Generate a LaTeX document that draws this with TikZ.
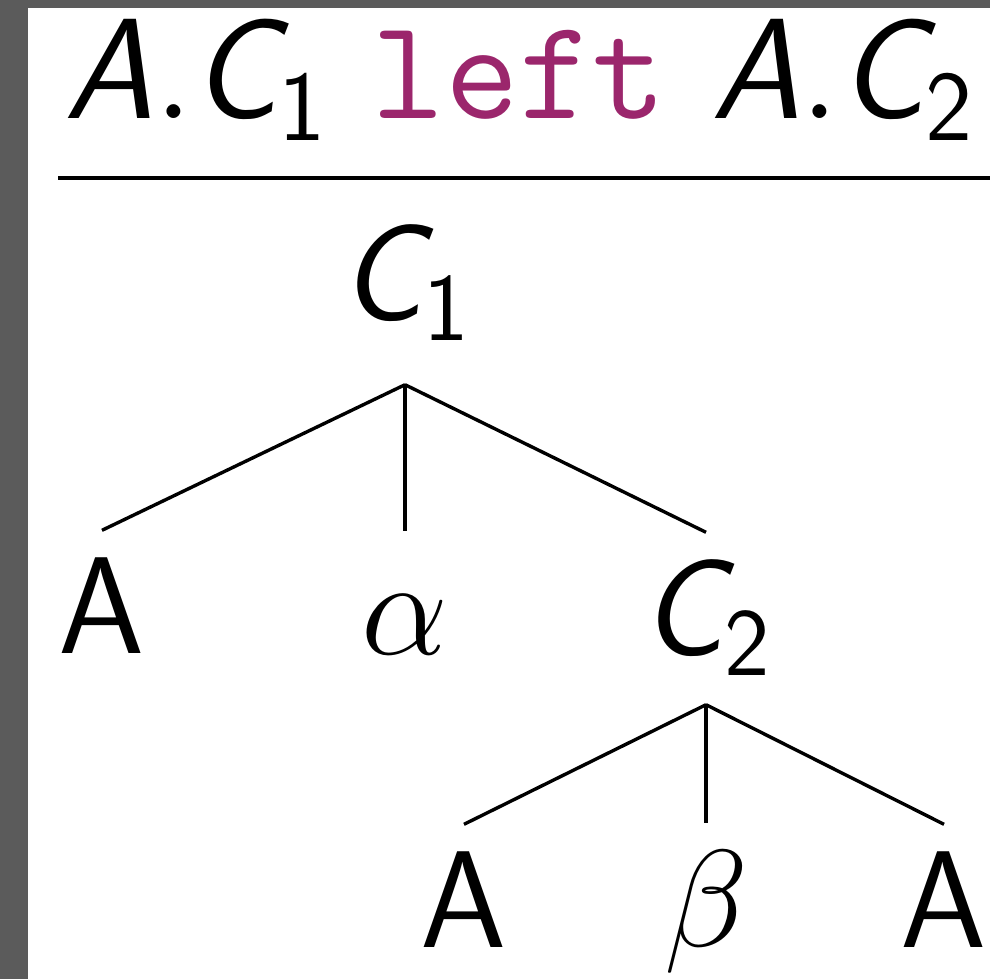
\RequirePackage{fix-cm}
\documentclass[tikz,border=0pt]{standalone}
\usepackage{amsmath}
\usepackage{fontspec}
\usetikzlibrary{positioning}
\definecolor{kwpurple}{RGB}{155,38,108}
\definecolor{framegrey}{HTML}{5B5B5B}
\newcommand{\vn}[1]{\textsl{#1}}
\newcommand{\ix}[1]{\textup{#1}}
\tikzset{
  every picture/.style={line width=1.7pt},
  tn/.style={anchor=base, inner sep=0pt, text height=60.5pt, text depth=0pt},
  branch/.style={draw=black, line width=1.7pt},
}

\begin{document}
\begin{tikzpicture}[x=0.5pt, y=-0.5pt,
  every node/.append style={font=\sffamily\fontsize{69}{80}\selectfont}]
  % frame and page
  \fill[framegrey] (0,0) rectangle (990,979);
  \fill[white] (28,8) rectangle (990,979);
  \useasboundingbox (0,0) rectangle (990,979);
  % rule
  \node[anchor=base west, inner sep=0pt, font=\sffamily\fontsize{71.5}{80}\selectfont] (goal) at (63,119)
    {$\vn{A}.\vn{C}_{\ix{1}}$ \texttt{\color{kwpurple}left} $\vn{A}.\vn{C}_{\ix{2}}$};
  \draw[line width=1.7pt] (58,178) -- (990,178);
  % tree
  \node[tn, text depth=31.5pt] (c1) at (405,320) {$\vn{C}_{\ix{1}}$};
  \node[tn] (a1) at (102,653) {A};
  \node[tn] (alpha) at (405,654) {$\alpha$};
  \node[tn, text depth=24pt] (c2) at (706,655) {$\vn{C}_{\ix{2}}$};
  \node[tn] (a2) at (464,947) {A};
  \node[tn] (beta) at (706,946) {$\beta$};
  \node[tn] (a3) at (944,947) {A};
  \foreach \k in {a1, alpha, c2} {
    \draw[branch] (c1.south) -- (\k.north);
  }
  \foreach \k in {a2, beta, a3} {
    \draw[branch] (c2.south) -- (\k.north);
  }
\end{tikzpicture}
\end{document}
